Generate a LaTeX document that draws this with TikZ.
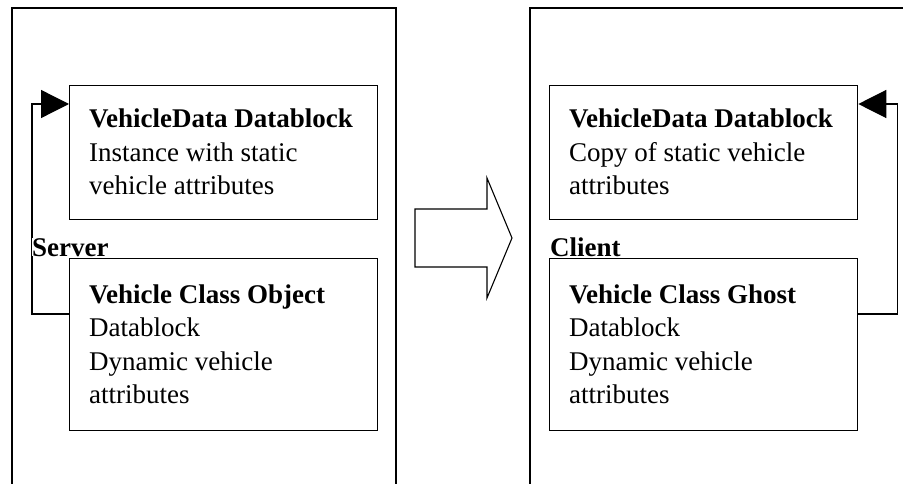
\documentclass[tikz,border=0pt]{standalone}
\usepackage{fontspec}
\setmainfont{Liberation Serif}
\usetikzlibrary{arrows.meta}
\tikzset{
  outer/.style={line width=1.6pt},
  box/.style={draw, line width=1.3pt, rectangle, minimum width=308pt, anchor=north west, inner sep=0pt},
  txt/.style={anchor=base west, inner sep=0pt, font=\fontsize{27}{33.5}\selectfont},
  lbl/.style={anchor=base west, inner sep=0pt, fill=white, font=\fontsize{27}{33.5}\selectfont\bfseries},
  conn/.style={line width=1.3pt, -{Triangle[length=28pt,width=28pt]}},
  bigarrow/.style={draw, line width=1.1pt, line join=miter}
}
\begin{document}
\begin{tikzpicture}[x=1pt,y=-1pt]
\useasboundingbox (0,0) rectangle (903,484);
% outer frames
\draw[outer] (12,484) -- (12,8) -- (396,8) -- (396,484);
\draw[outer] (530,484) -- (530,8) -- (903,8);
% inner boxes
\node[box, minimum height=134pt] (lt) at (69,85) {};
\node[box, minimum height=172pt] (lb) at (69,258) {};
\node[box, minimum height=134pt] (rt) at (549,85) {};
\node[box, minimum height=172pt] (rb) at (549,258) {};
% connectors
\draw[conn] ([yshift=-56pt]lb.north west) -- ++(-37,0) |- ([yshift=-19pt]lt.north west);
\draw[conn] ([yshift=-56pt]rb.north east) -- ++(39,0) |- ([yshift=-19pt]rt.north east);
% labels
\node[lbl] (server) at (32,256) {Server};
\node[lbl] (client) at (550,256) {Client};
% texts
\node[txt] (t1) at (89,128) {\begin{tabular}[t]{@{}l@{}}\textbf{VehicleData Datablock}\\ Instance with static\\ vehicle attributes\end{tabular}};
\node[txt] (t2) at (89,303) {\begin{tabular}[t]{@{}l@{}}\textbf{Vehicle Class Object}\\ Datablock\\ Dynamic vehicle\\ attributes\end{tabular}};
\node[txt] (t3) at (569,128) {\begin{tabular}[t]{@{}l@{}}\textbf{VehicleData Datablock}\\ Copy of static vehicle\\ attributes\end{tabular}};
\node[txt] (t4) at (569,303) {\begin{tabular}[t]{@{}l@{}}\textbf{Vehicle Class Ghost}\\ Datablock\\ Dynamic vehicle\\ attributes\end{tabular}};
% block arrow
\draw[bigarrow] (415,209) -- (487,209) -- (487,178) -- (512,238) -- (487,298) -- (487,267) -- (415,267) -- cycle;
\end{tikzpicture}
\end{document}
